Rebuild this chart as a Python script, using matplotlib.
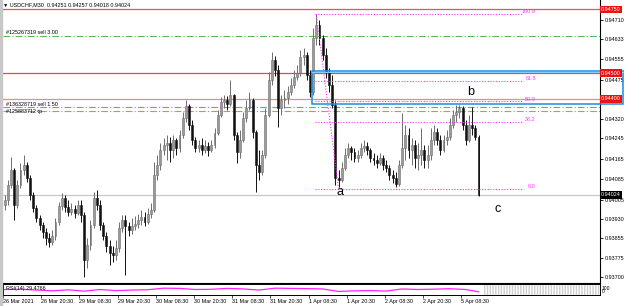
import matplotlib
matplotlib.use("Agg")
import matplotlib.pyplot as plt
from matplotlib.patches import Rectangle
import numpy as np

plt.rcParams["font.family"] = ["Liberation Sans", "DejaVu Sans"]

# USDCHF M30, one candle per hour, prices in 1e-5
first_open = 93984
close_pts = [94003, 94062, 94121, 93984, 94062, 94121, 94141, 94090, 94023, 93972,
             93933, 93905, 93878, 93854, 93839, 93862, 93917, 93980, 94011, 93976,
             93956, 93968, 93952, 93984, 93945, 93768, 93827, 93905, 94011, 93984,
             93905, 93862, 93823, 93796, 93788, 93815, 93894, 93925, 93902, 93886,
             93902, 93909, 93925, 93937, 93917, 93949, 93964, 94101, 94141, 94199,
             94219, 94226, 94199, 94238, 94207, 94258, 94324, 94371, 94297, 94238,
             94207, 94219, 94199, 94215, 94199, 94219, 94265, 94336, 94387, 94395,
             94379, 94415, 94258, 94191, 94238, 94324, 94364, 94395, 94269, 94141,
             94113, 94180, 94336, 94474, 94552, 94513, 94364, 94395, 94403, 94427,
             94454, 94485, 94501, 94564, 94572, 94493, 94427, 94638, 94689, 94638,
             94572, 94505, 94454, 94375, 94090, 94082, 94129, 94180, 94207, 94191,
             94168, 94180, 94207, 94215, 94199, 94168, 94160, 94148, 94168, 94141,
             94129, 94101, 94090, 94066, 94141, 94207, 94258, 94199, 94219, 94168,
             94180, 94199, 94160, 94180, 94238, 94269, 94238, 94199, 94238, 94250,
             94297, 94336, 94348, 94364, 94297, 94238, 94297, 94285, 94251, 94024]
high_pts = [94023, 94082, 94172, 94129, 94082, 94148, 94180, 94152, 94101, 94035,
            93984, 93945, 93917, 93894, 93874, 93886, 93933, 93996, 94031, 94023,
            94003, 93992, 93984, 94003, 94003, 93956, 93854, 93925, 94035, 94043,
            94003, 93917, 93878, 93847, 93823, 93847, 93917, 93945, 93945, 93917,
            93933, 93941, 93949, 93964, 93956, 93972, 93992, 94152, 94180, 94226,
            94246, 94258, 94250, 94258, 94246, 94277, 94348, 94395, 94379, 94317,
            94250, 94238, 94246, 94238, 94230, 94238, 94285, 94356, 94407, 94415,
            94411, 94474, 94420, 94269, 94277, 94348, 94395, 94427, 94403, 94277,
            94199, 94199, 94364, 94505, 94583, 94568, 94532, 94415, 94434, 94450,
            94481, 94513, 94532, 94591, 94599, 94583, 94513, 94677, 94732, 94709,
            94650, 94599, 94521, 94493, 94395, 94121, 94152, 94207, 94226, 94215,
            94207, 94199, 94226, 94238, 94230, 94207, 94188, 94180, 94188, 94180,
            94160, 94141, 94121, 94113, 94160, 94344, 94297, 94285, 94246, 94238,
            94226, 94285, 94219, 94219, 94285, 94297, 94285, 94258, 94258, 94277,
            94324, 94356, 94375, 94375, 94371, 94317, 94336, 94367, 94297, 94257]
low_pts = [93964, 93984, 94050, 93925, 93972, 94050, 94101, 94074, 94003, 93956,
           93917, 93886, 93854, 93827, 93819, 93827, 93847, 93905, 93964, 93956,
           93941, 93945, 93933, 93945, 93917, 93702, 93737, 93808, 93894, 93964,
           93886, 93847, 93800, 93749, 93761, 93768, 93800, 93878, 93710, 93862,
           93870, 93886, 93894, 93905, 93902, 93909, 93933, 93956, 94082, 94121,
           94180, 94160, 94152, 94168, 94180, 94191, 94246, 94309, 94277, 94219,
           94191, 94191, 94180, 94188, 94176, 94191, 94207, 94258, 94328, 94364,
           94356, 94371, 94238, 94148, 94168, 94230, 94309, 94356, 94246, 94035,
           94082, 94101, 94168, 94328, 94454, 94489, 94289, 94336, 94364, 94379,
           94415, 94442, 94474, 94489, 94532, 94474, 94407, 94415, 94611, 94611,
           94552, 94481, 94427, 94364, 94062, 94054, 94074, 94121, 94168, 94160,
           94152, 94152, 94168, 94191, 94180, 94152, 94141, 94129, 94141, 94121,
           94113, 94082, 94070, 94054, 94058, 94129, 94160, 94168, 94141, 94129,
           94121, 94141, 94129, 94129, 94160, 94219, 94219, 94180, 94191, 94219,
           94238, 94285, 94309, 94324, 94277, 94219, 94230, 94258, 94238, 94018]

# indicator, one reading every 5 candles plus the last one
rsi_vals = [50, 52, 45, 38, 47, 35, 50, 40, 45, 48, 62, 60, 50, 52, 60, 55,
            45, 62, 60, 58, 55, 32, 38, 40, 36, 55, 50, 53, 57, 50, 29.4766]

time_labels = ["26 Mar 2021", "26 Mar 20:30", "29 Mar 08:30", "29 Mar 20:30",
               "30 Mar 08:30", "30 Mar 20:30", "31 Mar 08:30", "31 Mar 20:30",
               "1 Apr 08:30", "1 Apr 20:30", "2 Apr 08:30", "2 Apr 20:30",
               "5 Apr 08:30"]
price_ticks = [0.94710, 0.94633, 0.94555, 0.94475, 0.94320, 0.94245, 0.94165,
               0.94085, 0.94005, 0.93930, 0.93855, 0.93775, 0.93700]

red_levels = [0.94750, 0.94500, 0.94400]
orders = [("#125267319 sell 3.00", 0.94646, "#5cb85c"),
          ("#136328719 sell 1.50", 0.94367, "#5cb85c"),
          ("#125883712 tp", 0.94352, "#f08050")]
last_price = 0.94024
box_prices = (0.94378, 0.94509)
fib_high, fib_low = 0.94732, 0.94048
fib_levels = [0.0, 38.2, 50.0, 61.8, 100.0]

closes = np.array(close_pts) / 1e5
opens = np.concatenate([[first_open], close_pts[:-1]]) / 1e5
highs = np.maximum(np.array(high_pts) / 1e5, np.maximum(opens, closes))
lows = np.minimum(np.array(low_pts) / 1e5, np.minimum(opens, closes))
idx = np.arange(len(closes))

W, H = 625, 306
fs = 3.9
fig = plt.figure(figsize=(W / 100, H / 100), dpi=100)
ax = fig.add_axes([3 / W, 1 - 283 / H, 597 / W, 283 / H])
axi = fig.add_axes([3 / W, 1 - 295 / H, 597 / W, 11 / H], sharex=ax)

x0, x1 = -0.5, 187.2
ax.set_xlim(x0, x1)
ax.set_ylim(0.93678, 0.94787)

# candles
up = closes >= opens
ax.vlines(idx[up], lows[up], highs[up], color="#6e6e6e", lw=0.7, zorder=3)
ax.vlines(idx[~up], lows[~up], highs[~up], color="#111111", lw=0.7, zorder=3)
body_lo = np.minimum(opens, closes)
body_h = np.maximum(np.abs(closes - opens), 0.000006)
ax.bar(idx[up], body_h[up], 0.6, bottom=body_lo[up], color="#9a9a9a",
       edgecolor="#6e6e6e", lw=0.4, zorder=4)
ax.bar(idx[~up], body_h[~up], 0.6, bottom=body_lo[~up], color="#111111",
       edgecolor="#111111", lw=0.4, zorder=4)

# horizontal levels
for p, c in zip(red_levels, ["#f05050", "#e84848", "#f08888"]):
    ax.axhline(p, color=c, lw=0.9, zorder=2)
for txt, p, c in orders:
    ax.axhline(p, color=c, lw=0.8, ls=(0, (6, 2, 1, 2)), zorder=2)
ax.text(0.5, 0.94646 + 0.00002, orders[0][0], fontsize=fs, va="bottom", ha="left")
ax.text(0.5, 0.94367 + 0.00002, orders[1][0], fontsize=fs, va="bottom", ha="left")
ax.text(0.5, 0.94352 - 0.00001, orders[2][0], fontsize=fs, va="center", ha="left")
ax.axhline(last_price, color="#c8c8c8", lw=0.9, zorder=1)

# rectangle
rect = Rectangle((96.6, box_prices[0]), 194.4 - 96.6, box_prices[1] - box_prices[0],
                 fill=False, edgecolor="#1e8ce0", lw=1.1, clip_on=False, zorder=6)
ax.add_patch(rect)
ax.plot([96.6, 194.4], [box_prices[1] - 0.00004] * 2, color="#87cefa", lw=0.8,
        clip_on=False, zorder=6)

# fibonacci
fib_start, fib_end = 97.6, 162.7
for lv in fib_levels:
    p = fib_low + (fib_high - fib_low) * lv / 100
    ax.plot([fib_start, fib_end], [p, p], color="#ff33ff", lw=0.8, ls=(0, (1, 1.5)), zorder=5)
    ax.text(167, p - 0.00001, f"{lv:.1f}", color="#ff33ff", fontsize=fs,
            ha="right", va="bottom")
ax.plot([98, 105], [fib_high, fib_low], color="#ff33ff", lw=0.8, ls=(0, (1, 1.5)), zorder=5)

# wave labels
ax.text(105.5, 0.94035, "a", fontsize=9, ha="center", va="center")
ax.text(146.6, 0.94427, "b", fontsize=9, ha="center", va="center")
ax.text(155.0, 0.93968, "c", fontsize=9, ha="center", va="center")

# right price axis
ax.yaxis.tick_right()
ax.set_yticks(price_ticks)
ax.set_yticklabels([f"{p:.5f}" for p in price_ticks])
ax.tick_params(axis="y", length=2, width=0.6, labelsize=fs, pad=1.5)
ax.tick_params(axis="x", bottom=False, labelbottom=False)
for p in red_levels:
    ax.text(1.002, p, f"{p:.5f}", transform=ax.get_yaxis_transform(), fontsize=fs,
            color="white", va="center", ha="left", clip_on=False, zorder=10,
            bbox=dict(boxstyle="square,pad=0.25", fc="#ee1111", ec="none"))
ax.text(1.002, last_price, f"{last_price:.5f}", transform=ax.get_yaxis_transform(),
        fontsize=fs, color="white", va="center", ha="left", clip_on=False, zorder=10,
        bbox=dict(boxstyle="square,pad=0.25", fc="black", ec="none"))
for s in ["top", "left"]:
    ax.spines[s].set_visible(False)
ax.spines["right"].set_linewidth(0.8)
ax.spines["bottom"].set_linewidth(0.8)

# indicator window
axi.set_ylim(0, 100)
rsi_x = list(range(0, 150, 5)) + [149]
axi.plot(rsi_x, rsi_vals, color="#ff22ff", lw=0.9)
axi.axvspan(150.5, x1, facecolor="none", edgecolor="#d0d0d0", hatch="||||||", lw=0)
axi.text(0.3, 55, "RSI(14) 29.4766", fontsize=fs, va="center", ha="left")
axi.set_yticks([])
for s in axi.spines.values():
    s.set_linewidth(0.7)
axi.text(1.003, 0.62, "100", transform=axi.transAxes, fontsize=3.6, va="center", ha="left")
axi.text(1.003, 0.3, "0", transform=axi.transAxes, fontsize=3.6, va="center", ha="left")

tick_pos = [-0.5 + 12.01 * k for k in range(len(time_labels))]
axi.set_xticks(tick_pos)
axi.set_xticklabels(time_labels, ha="left", fontsize=fs)
axi.tick_params(axis="x", length=2, width=0.5, pad=1)

# title and left frame
fig.text(3 / W, 1 - 5 / H, "\u25bc USDCHF,M30  0.94251 0.94257 0.94018 0.94024",
         fontsize=fs, va="center", ha="left")
fig.patches.append(Rectangle((0, 0), 2 / W, 1, transform=fig.transFigure,
                             color="#c8c8c8", zorder=0))

fig.savefig("out.png", dpi=100)
